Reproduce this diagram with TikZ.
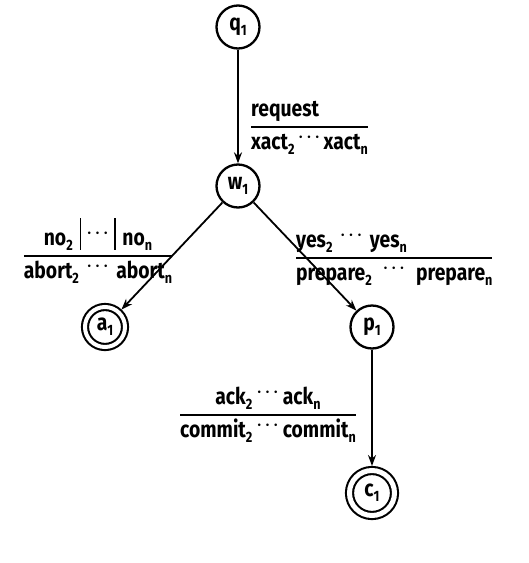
\documentclass[tikz,border=0pt]{standalone}
\usepackage{fontspec}
\setsansfont{Fira Sans}[FakeStretch=0.84]
\usetikzlibrary{arrows.meta}
\setlength{\arrayrulewidth}{1.6pt}
\newcommand{\trans}[3][c]{\renewcommand{\arraystretch}{1.2}\begin{tabular}{@{}#1@{}}#2\\\hline #3\end{tabular}}
\newcommand{\sub}[1]{\raisebox{-0.4ex}{\fontsize{15}{15}\selectfont #1}}
\newcommand{\dts}[1][0.15em]{\hspace{#1}\raisebox{0.5ex}{$\cdot\!\cdot\!\cdot$}\hspace{#1}}
\newcommand{\vbar}{\rule[-0.3ex]{1.6pt}{2.6ex}}

\begin{document}
\begin{tikzpicture}[x=1pt,y=-1pt,
    every node/.style={font=\sffamily\bfseries\fontsize{23}{26}\selectfont},
    state/.style={circle,draw,line width=2.3pt,minimum size=43pt,inner sep=0pt},
    final/.style={state,double,line width=2.1pt,double distance=4pt,outer sep=4pt},
    arr/.style={-{Stealth[length=11pt,width=8pt]},line width=1.8pt},
    lbl/.style={inner sep=0pt}]
  \useasboundingbox (0,0) rectangle (529,563);
  % states
  \node[state] (q1) at (238,27)  {q\sub{1}};
  \node[state] (w1) at (238,186) {w\sub{1}};
  \node[final,minimum size=40pt] (a1) at (105,327) {a\sub{1}};
  \node[state] (p1) at (372,327) {p\sub{1}};
  \node[final,minimum size=45pt,double distance=5pt,outer sep=4.5pt] (c1) at (372,493) {c\sub{1}};
  % transitions
  \draw[arr] (q1) -- (w1);
  \draw[arr] (w1) -- (a1);
  \draw[arr] (w1) -- (p1);
  \draw[arr] (p1) -- (c1);
  % labels
  \node[lbl,anchor=west] (lreq) at (251,127)
    {\trans[l]{request}{xact\sub{2}\dts[0.12em]xact\sub{n}}};
  \node[lbl] (lno) at (98,253)
    {\trans{no\sub{2}\hspace{0.3em}\vbar\dts[0.2em]\vbar\hspace{0.3em}no\sub{n}}{abort\sub{2}\dts[0.3em]abort\sub{n}}};
  \node[lbl,anchor=west] (lyes) at (296,258)
    {\trans[l]{yes\sub{2}\dts[0.3em]yes\sub{n}}{prepare\sub{2}\dts[0.45em]prepare\sub{n}}};
  \node[lbl] (lack) at (268,415)
    {\trans{ack\sub{2}\dts ack\sub{n}}{commit\sub{2}\dts commit\sub{n}}};
\end{tikzpicture}
\end{document}
